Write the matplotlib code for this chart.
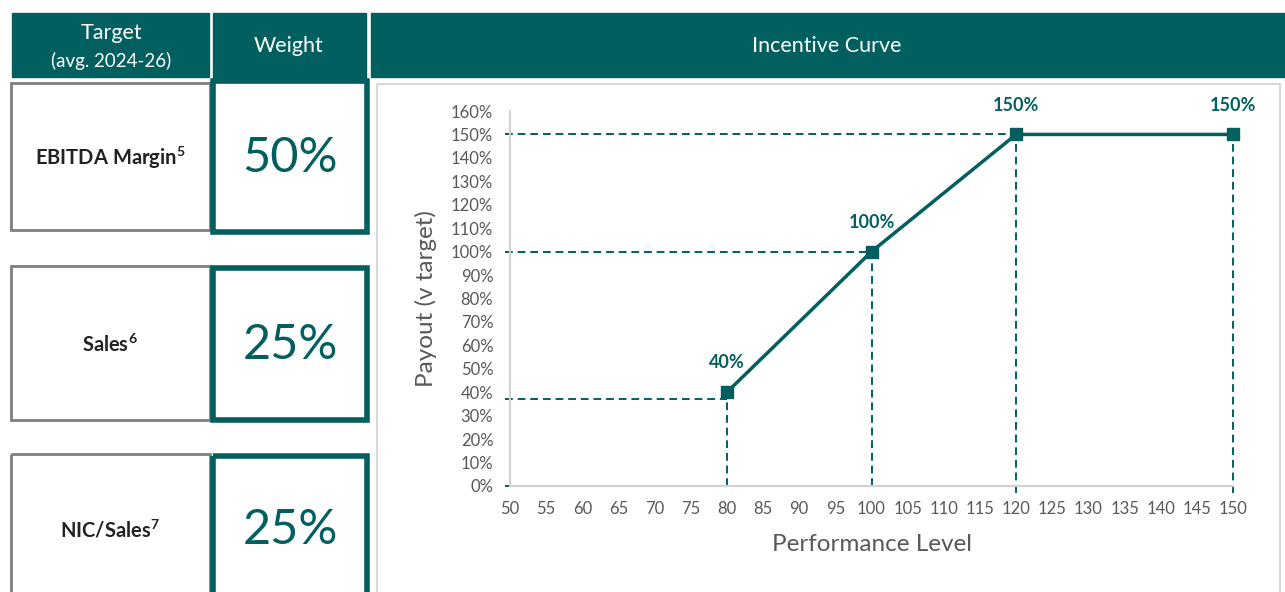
import matplotlib
matplotlib.use("Agg")
import matplotlib.pyplot as plt
from matplotlib.patches import Rectangle

plt.rcParams['font.family'] = ['Lato', 'DejaVu Sans']
plt.rcParams['mathtext.fontset'] = 'custom'
plt.rcParams['mathtext.rm'] = 'Lato'
plt.rcParams['mathtext.bf'] = 'Lato:bold'

# data
perf = [80, 100, 120, 150]
payout = [40, 100, 150, 150]
point_labels = ['40%', '100%', '150%', '150%']
# dashed guide lines (x end, y level)
guide_x = [80, 100, 120, 150]
guide_y = [37, 100, 150, 150]
targets = ['EBITDA Margin', 'Sales', 'NIC/Sales']
notes = ['5', '6', '7']
weights = ['50%', '25%', '25%']
x_ticks = list(range(50, 151, 5))
y_ticks = list(range(0, 161, 10))

TEAL = '#025f5f'
GRAY_TXT = '#595959'

W, H = 1285, 592
fig = plt.figure(figsize=(W / 100, H / 100), dpi=100)

# background layer in pixel coordinates
bg = fig.add_axes([0, 0, 1, 1])
bg.set_xlim(0, W)
bg.set_ylim(H, 0)
bg.axis('off')

# header cells
bg.add_patch(Rectangle((12, 13), 197, 64, color=TEAL))
bg.add_patch(Rectangle((213, 13), 153, 69, color=TEAL))
bg.add_patch(Rectangle((371, 13), 914, 64, color=TEAL))
bg.text(111, 33, 'Target', color='white', fontsize=15.5, ha='center', va='center')
bg.text(111, 61, '(avg. 2024-26)', color='white', fontsize=13.5, ha='center', va='center')
bg.text(289, 46, 'Weight', color='white', fontsize=15.5, ha='center', va='center')
bg.text(827, 46, 'Incentive Curve', color='white', fontsize=15.5, ha='center', va='center')

# table rows
row_gray = [(83, 147), (266, 154), (454, 160)]
row_teal = [(81, 151), (268, 152), (456, 160)]
row_mid = [158, 345, 530]
for i in range(3):
    gy, gh = row_gray[i]
    bg.add_patch(Rectangle((11, gy), 199, gh, fill=False, ec='#7f7f7f', lw=2))
    ty, th = row_teal[i]
    bg.add_patch(Rectangle((213, ty), 154, th, fill=False, ec=TEAL, lw=4))
    bg.text(110, row_mid[i], targets[i] + r'$^{\mathbf{' + notes[i] + '}}$',
            color='#222222', fontsize=14.5, fontweight='bold', ha='center', va='center')
    bg.text(290, row_mid[i], weights[i], color=TEAL, fontsize=35,
            ha='center', va='center')

# chart panel border
bg.add_patch(Rectangle((377, 84), 903, 520, fill=False, ec='#d9d9d9', lw=1.5))

# chart axes
ax = fig.add_axes([510 / W, (H - 486) / H, (1233 - 510) / W, (486 - 111) / H])
ax.set_xlim(50, 150)
ax.set_ylim(0, 160)
ax.patch.set_alpha(0)
for s in ['top', 'right']:
    ax.spines[s].set_visible(False)
for s in ['left', 'bottom']:
    ax.spines[s].set_color('#d0d0d0')
    ax.spines[s].set_linewidth(1.5)
ax.set_xticks(x_ticks)
ax.set_yticks(y_ticks)
ax.set_yticklabels([f'{v}%' for v in y_ticks])
ax.tick_params(length=0, labelsize=12, labelcolor=GRAY_TXT)
ax.tick_params(axis='x', pad=11)
ax.tick_params(axis='y', pad=12)

dash = dict(color=TEAL, lw=1.4, ls=(0, (4, 2.5)), clip_on=False, zorder=2)
for gx, gy in zip(guide_x, guide_y):
    ax.plot([gx, gx], [0 if gx < 120 else -3, gy], **dash)
    if gx != 150:
        ax.plot([49.3, gx], [gy, gy], **dash)
ax.plot([49.3, guide_x[0]], [0, 0], **dash)

ax.plot(perf, payout, color=TEAL, lw=2.5, marker='s', ms=9, zorder=4, clip_on=False)
for x, y, lab in zip(perf, payout, point_labels):
    ax.annotate(lab, (x, y), xytext=(0, 15), textcoords='offset points',
                ha='center', va='bottom', color=TEAL, fontsize=13, fontweight='bold')

ax.set_xlabel('Performance Level', fontsize=17.5, color=GRAY_TXT, labelpad=12)
ax.set_ylabel('Payout (v target)', fontsize=17.5, color=GRAY_TXT, labelpad=10)

fig.savefig('out.png', dpi=100)
